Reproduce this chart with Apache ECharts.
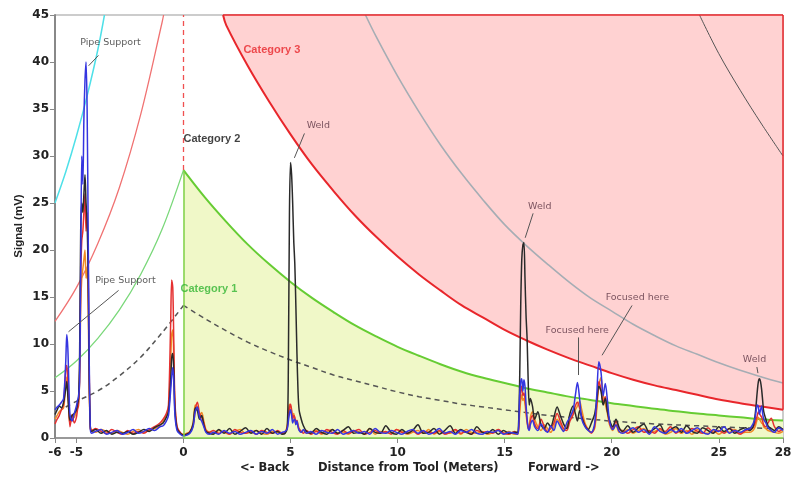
<!DOCTYPE html>
<html>
<head>
<meta charset="utf-8">
<script src="https://cdn.jsdelivr.net/npm/echarts@6/dist/echarts.min.js"></script>
<style>html,body{margin:0;padding:0;background:#fff;}#c{width:795px;height:479px;}</style>
</head>
<body>
<div id="c"></div>
<script>
// ---------- axis ticks ----------
const xTicks = [-6, -5, 0, 5, 10, 15, 20, 25, 28];

// ---------- threshold curves ----------
const cat3X = [1.85,2,3,4,5,6,7,8,9,10,11,12,13,14,15,16,17,18,19,20,21,22,23,24,25,26,27,28];
const cat3Y = [45,43.9,39.6,35.8,32.3,29.1,26.3,23.7,21.4,19.3,17.4,15.7,14.1,12.8,11.5,10.4,9.4,8.5,7.7,6.9,6.2,5.6,5.1,4.6,4.1,3.7,3.35,3.0];
const grayX = [8.5,9,10,11,12,13,14,15,16,17,18,19,20,21,22,23,24,25,26,27,28];
const grayY = [45,42.7,38.5,34.7,31.2,28.1,25.3,22.7,20.5,18.5,16.6,14.9,13.5,12.1,10.9,9.8,8.9,8.0,7.2,6.5,5.85];
const darkX = [24.1,25,26,27,28];
const darkY = [45,40.9,37.0,33.4,30.0];
const cyanX = [-6,-5.5,-5,-4.5,-4,-3.69];
const cyanY = [25,28.3,32.1,36.4,41.3,45];
const redLX = [-6,-5,-4,-3,-2,-1,-0.93];
const redLY = [12.4,16.0,20.7,26.6,34.4,44.2,45];
const greenLX = [-6,-5,-4,-3,-2,-1,0];
const greenLY = [6.4,8.2,10.6,13.6,17.4,22.2,28.5];
const greenRX = [0,1,2,3,4,5,6,7,8,9,10,11,12,13,14,15,16,17,18,19,20,21,22,23,24,25,26,27,28];
const greenRY = [28.5,25.6,23.0,20.6,18.5,16.6,14.9,13.4,12.0,10.8,9.7,8.75,7.85,7.05,6.4,5.85,5.3,4.85,4.4,4.05,3.7,3.4,3.1,2.85,2.6,2.4,2.2,2.0,1.85];
const dashLX = [-5.5,-5,-4,-3,-2,-1,0];
const dashLY = [3.3,3.9,5.0,6.6,8.6,11.2,14.1];
const dashRX = [0,1,2,3,4,5,6,7,8,9,10,11,12,13,14,15,16,17,18,19,20,22,24,26,28];
const dashRY = [14.1,12.7,11.4,10.2,9.2,8.3,7.5,6.7,6.1,5.5,4.9,4.4,4.0,3.6,3.3,3.0,2.7,2.4,2.2,2.0,1.8,1.5,1.3,1.1,1.0];

// ---------- signal traces: shared distances ----------
const traceX = [
 -6.0,-5.9,-5.8,-5.7,-5.6,-5.5,-5.45,-5.4,-5.35,-5.3,-5.2,-5.1,-5.0,
 -4.95,-4.9,-4.85,-4.8,-4.75,-4.7,-4.65,-4.6,-4.55,-4.5,-4.45,-4.4,-4.35,-4.3,
 -4.1,-3.85,-3.6,-3.35,-3.1,-2.85,-2.6,-2.35,-2.1,-1.85,-1.6,-1.35,-1.1,
 -0.95,-0.8,-0.7,-0.6,-0.55,-0.5,-0.45,-0.4,-0.3,-0.15,0,0.15,0.3,0.45,0.55,0.65,0.75,0.85,0.95,1.05,1.2,
 1.4,1.65,1.9,2.15,2.4,2.65,2.9,3.15,3.4,3.65,3.9,4.15,4.4,4.6,
 4.75,4.85,4.9,4.95,5.0,5.05,5.1,5.15,5.2,5.25,5.3,5.35,5.4,5.5,5.6,5.75,
 5.95,6.2,6.45,6.7,6.95,7.2,7.45,7.7,7.95,8.2,8.45,8.7,8.95,9.2,9.45,9.7,9.95,10.2,10.45,10.7,10.95,11.2,11.45,11.7,11.95,12.2,12.45,12.7,12.95,13.2,13.45,13.7,13.95,14.2,14.45,14.7,14.95,15.2,15.45,
 15.6,15.65,15.7,15.75,15.8,15.85,15.9,15.95,16.0,16.05,16.1,16.15,16.2,16.3,
 16.4,16.55,16.7,16.85,17.0,17.15,17.3,17.45,17.6,17.75,17.9,18.05,18.2,18.3,18.4,18.5,18.6,18.75,18.9,19.05,19.2,19.3,19.4,19.5,19.6,19.7,19.8,19.9,20.05,20.2,20.35,
 20.5,20.75,21.0,21.25,21.5,21.75,22.0,22.25,22.5,22.75,23.0,23.25,23.5,23.75,24.0,24.25,24.5,24.75,25.0,25.25,25.5,25.75,26.0,26.25,
 26.45,26.6,26.7,26.8,26.85,26.9,26.95,27.0,27.05,27.1,27.2,27.3,27.45,27.6,
 27.8,28.0
];
const blackY = [
 2.5,3.0,3.4,3.2,3.8,5.2,6.0,4.5,2.8,1.9,2.4,2.6,3.0,
 3.6,4.2,9,22,25,24,26,28,25,23,17,6,1.2,0.7,
 0.9,0.5,0.8,0.4,0.6,0.5,0.7,0.4,0.6,0.9,0.7,1.1,1.4,
 1.6,2.2,2.8,6,8.5,9,7,3,1.0,0.5,0.3,0.4,0.6,1.5,3.2,2.9,2.0,2.4,1.4,0.7,0.5,
 0.4,0.9,0.5,1.0,0.4,0.7,1.1,0.5,0.8,0.4,1.0,0.5,0.7,0.4,
 0.5,1.2,8,24,29.3,28,25,21,18.5,14,9,5,3,2,1.3,0.7,
 0.5,1.0,0.6,0.4,0.9,0.5,0.8,1.2,0.5,0.6,0.4,1.0,0.6,0.5,1.3,0.6,0.4,0.9,0.5,0.8,1.4,0.5,0.6,1.0,0.4,0.8,1.3,0.5,0.9,0.6,0.4,1.2,0.6,0.5,0.9,0.4,0.8,0.5,0.6,
 0.6,1.5,6,14,19,20.5,20.8,17,13,10.5,6,3.5,4.2,3.4,
 2.0,2.8,1.4,1.0,1.6,1.2,2.2,3.3,2.4,1.5,1.0,2.6,3.4,2.6,1.8,2.9,2.2,1.3,0.9,1.6,2.5,4.0,5.5,5.0,3.5,4.2,2.8,1.9,1.2,2.0,1.1,
 0.7,1.3,0.6,1.1,1.5,0.6,1.0,1.4,0.5,0.9,1.2,0.6,1.3,0.7,0.5,1.1,0.8,0.5,1.2,0.7,1.0,0.5,0.9,1.1,
 0.8,1.2,2.5,5,6.0,6.3,6.0,5.2,4.0,2.8,2.0,1.3,1.0,0.8,
 1.2,0.9
];
const blueY = [
 3.0,3.3,3.5,3.8,4.2,8.0,11.0,9.5,5.5,2.5,1.8,2.6,3.4,
 4.0,4.4,6,18,30,27,34,38,40,35,22,8,1.0,0.5,
 0.7,0.9,0.4,0.6,0.8,0.4,0.6,0.9,0.5,0.7,1.0,0.8,1.2,
 1.3,1.8,2.4,5,6.5,7.5,6,2.5,0.8,0.4,0.2,0.3,0.5,1.2,2.8,3.3,2.2,1.8,1.2,0.6,0.4,
 0.6,0.4,0.8,0.5,0.7,0.4,0.6,0.8,0.4,0.7,0.5,0.9,0.4,0.6,
 0.7,1.0,1.8,2.6,3.0,2.4,1.6,1.9,2.0,1.4,1.8,1.2,0.8,0.6,0.9,0.5,
 0.7,0.4,0.8,0.6,0.5,0.9,0.4,0.6,0.8,0.5,0.7,0.4,1.0,0.6,0.5,0.8,0.6,0.4,0.7,0.9,0.5,0.8,0.4,0.6,1.0,0.5,0.7,0.4,0.8,0.6,0.9,0.5,0.4,0.7,0.6,0.8,0.4,0.6,0.5,
 0.4,1.0,4.5,6.0,6.3,5.0,6.2,5.5,3.5,2.0,1.0,0.8,1.4,1.9,
 1.2,0.8,1.5,0.9,0.6,1.3,0.8,1.8,1.2,0.7,1.6,2.2,3.0,4.5,5.9,4.2,2.0,1.2,0.8,0.6,1.5,4.5,8.1,7.0,4.5,5.8,4.0,1.8,0.9,1.4,0.7,
 0.5,0.8,1.1,0.6,0.9,0.4,1.2,0.7,0.5,0.9,0.6,1.0,0.5,0.8,1.1,0.6,0.4,0.9,0.7,1.2,0.5,0.8,0.6,0.9,
 1.0,1.5,2.2,3.5,3.3,2.5,3.0,3.4,2.6,2.0,1.6,1.1,0.8,0.6,
 1.1,0.8
];
const redY = [
 1.5,2.0,2.4,3.0,3.6,7.2,7.7,6.0,3.0,1.2,2.5,1.6,2.2,
 3.0,3.5,7,17,21,22,24,26,22,24,19,7,1.0,0.8,
 1.0,0.7,0.5,0.9,0.6,0.4,0.8,0.5,0.7,0.5,0.9,1.2,1.6,
 2.0,2.6,3.5,12,16.8,16,10,4,1.2,0.6,0.3,0.4,0.7,1.3,3.0,3.8,2.6,2.2,1.6,0.8,0.6,
 0.8,0.5,0.7,0.4,0.9,0.6,0.5,0.7,0.4,0.8,0.6,0.5,0.8,0.5,
 0.6,1.2,2.2,3.2,3.6,3.0,2.0,2.4,2.2,1.6,1.9,1.4,1.0,0.7,0.5,0.8,
 0.4,0.7,0.5,0.9,0.6,0.4,0.8,0.5,0.7,0.9,0.4,0.6,0.8,0.5,0.7,0.4,0.9,0.6,0.5,0.8,0.4,0.7,0.6,0.5,0.8,0.4,0.6,0.9,0.5,0.7,0.4,0.8,0.6,0.7,0.5,0.9,0.5,0.4,0.7,
 0.5,0.9,3.5,5.0,5.5,4.5,4.8,4.2,3.0,1.8,1.2,0.9,1.8,2.4,
 1.5,1.0,2.0,1.2,0.7,1.0,1.6,2.6,1.8,1.0,0.8,1.8,2.5,3.4,3.8,3.2,2.4,1.4,0.9,0.5,1.2,3.5,6.0,5.2,3.8,4.4,3.0,1.6,1.0,1.8,0.9,
 0.8,0.5,0.9,1.2,0.6,0.8,0.5,1.0,0.7,1.2,0.5,0.8,0.6,1.0,0.7,0.5,1.1,0.6,0.8,0.5,1.0,0.7,0.4,0.8,
 0.9,1.1,1.6,2.4,2.8,2.6,2.4,2.2,1.8,1.4,1.2,1.6,2.1,1.2,
 0.7,1.0
];
const orangeY = [
 2.0,2.4,2.8,3.0,3.2,5.5,6.5,5.0,2.6,1.6,2.0,2.2,2.8,
 3.2,3.8,6,14,17,18,19,20,17,18,14,5,1.2,0.9,
 0.6,0.9,0.7,0.5,0.8,0.6,0.4,0.7,0.9,0.6,0.8,1.0,1.3,
 1.8,2.4,3.0,8,11,11.5,8,3.5,1.1,0.5,0.4,0.5,0.6,1.6,3.5,3.2,2.4,2.7,1.8,0.9,0.6,
 0.5,0.8,0.6,0.4,0.7,0.9,0.5,0.6,0.8,0.5,0.4,0.7,0.6,0.5,
 0.6,1.4,2.8,3.6,3.4,2.8,2.2,2.6,1.8,1.5,1.7,1.2,0.9,0.6,0.8,0.5,
 0.6,0.8,0.4,0.7,0.9,0.5,0.6,0.4,0.8,0.6,0.5,1.0,0.4,0.7,0.6,0.5,0.9,0.7,0.4,0.6,0.8,0.5,0.9,0.4,0.7,0.6,0.5,0.8,0.4,0.9,0.6,0.5,0.7,0.4,0.6,0.9,0.5,0.7,0.4,
 0.4,0.8,2.5,4.0,4.6,4.0,4.2,3.6,2.5,1.6,1.0,1.2,2.2,2.8,
 2.0,1.2,0.8,1.4,1.0,0.6,1.2,2.0,1.5,0.8,1.2,2.0,2.8,3.0,3.4,3.9,3.0,1.6,0.9,0.6,1.0,3.0,5.5,6.4,4.6,3.6,2.6,1.4,0.8,1.4,0.6,
 0.6,0.9,0.5,0.8,1.0,0.5,0.7,0.9,0.4,0.6,1.0,0.5,0.8,0.4,0.9,0.6,0.5,0.8,0.4,0.7,0.6,0.9,0.5,0.6,
 0.6,0.8,1.2,2.0,2.2,2.0,1.8,1.6,1.5,1.2,1.0,0.8,0.7,0.6,
 0.5,0.7
];

// ---------- annotations ----------
const annoText = ['Pipe Support','Pipe Support','Weld','Weld','Focused here','Focused here','Weld'];
const annoX = [-3.41,-2.71,6.3,16.64,18.39,21.2,26.67];
const annoY = [42.1,16.7,33.2,24.6,11.4,14.9,8.3];
const leadX1 = [-3.97,-3.03,5.65,16.33,18.43,20.95,26.78];
const leadY1 = [40.7,15.7,32.4,23.9,10.7,14.1,7.55];
const leadX2 = [-4.43,-5.37,5.18,15.96,18.43,19.55,26.83];
const leadY2 = [39.6,11.3,29.8,21.3,6.7,8.8,6.9];
const catText = ['Category 1','Category 2','Category 3'];
const catX = [-0.14,0.0,2.8];
const catY = [15.85,31.8,41.3];
const catColor = ['#33b533','#111111','#e8262b'];

const zip = (xs, ys) => xs.map((x, i) => [x, ys[i]]);
const lineS = (xs, ys, color, width, z, extra) => Object.assign({
  type: 'line', data: zip(xs, ys), smooth: 0.35, symbol: 'none', silent: true,
  lineStyle: { color: color, width: width }, z: z
}, extra || {});

const chart = echarts.init(document.getElementById('c'), null, { renderer: 'canvas' });
const tickFont = { fontFamily: 'DejaVu Sans', fontWeight: 'bold', fontSize: 12, color: '#222' };

const series = [
  lineS(cat3X, cat3Y, '#e8262b', 2, 1, {
    areaStyle: { color: '#ffd2d2', opacity: 1, origin: 'end' },
    markLine: { symbol: 'none', silent: true, animation: false, label: { show: false },
      lineStyle: { color: '#e8262b', width: 1.5, type: 'solid' },
      data: [
        [{ coord: [cat3X[cat3X.length - 1], cat3Y[cat3Y.length - 1]] }, { coord: [cat3X[cat3X.length - 1], 45] }],
        [{ coord: [cat3X[0], 45] }, { coord: [cat3X[cat3X.length - 1], 45] }]
      ] }
  }),
  lineS(greenRX, greenRY, '#66cc33', 2, 1, {
    areaStyle: { color: '#f0f8c8', opacity: 1, origin: 'start' },
    markLine: { symbol: 'none', silent: true, animation: false, label: { show: false },
      lineStyle: { color: '#7fd04a', width: 1.5, type: 'solid' },
      data: [
        [{ coord: [0, 0] }, { coord: [0, greenRY[0]] }],
        [{ coord: [0, 0] }, { coord: [greenRX[greenRX.length - 1], 0] }]
      ] }
  }),
  lineS(grayX, grayY, '#a6adb4', 1.6, 3),
  lineS(darkX, darkY, '#555555', 1, 3),
  lineS(cyanX, cyanY, '#4ee0e8', 1.5, 3),
  lineS(redLX, redLY, '#f07272', 1.3, 3),
  lineS(greenLX, greenLY, '#7ad87a', 1.3, 3, {
    markLine: { symbol: 'none', silent: true, animation: false, label: { show: false },
      lineStyle: { color: '#f05050', width: 1.3, type: [5, 4] },
      data: [[{ coord: [0, greenLY[greenLY.length - 1]] }, { coord: [0, 45] }]] }
  }),
  lineS(dashLX, dashLY, '#555555', 1.5, 3, { lineStyle: { color: '#555', width: 1.5, type: [5, 4] } }),
  lineS(dashRX, dashRY, '#555555', 1.5, 3, { lineStyle: { color: '#555', width: 1.5, type: [5, 4] } }),
  lineS(traceX, orangeY, '#f08a24', 1.5, 4, { smooth: 0.3 }),
  lineS(traceX, redY, '#e53030', 1.5, 4, { smooth: 0.3 }),
  lineS(traceX, blackY, '#2a2a2a', 1.5, 4, { smooth: 0.3 }),
  lineS(traceX, blueY, '#3535e0', 1.5, 4, { smooth: 0.3 }),
  {
    type: 'lines', coordinateSystem: 'cartesian2d', silent: true, z: 5,
    lineStyle: { color: '#555', width: 1, opacity: 1 },
    data: leadX1.map((x, i) => ({ coords: [[x, leadY1[i]], [leadX2[i], leadY2[i]]] }))
  },
  {
    type: 'scatter', silent: true, z: 6, symbolSize: 0,
    data: annoText.map((t, i) => ({
      name: t, value: [annoX[i], annoY[i]],
      label: { color: i < 2 ? '#333333' : '#5a3342' }
    })),
    label: { show: true, position: 'inside', formatter: '{b}', fontFamily: 'DejaVu Sans', fontSize: 9.5 }
  },
  {
    type: 'scatter', silent: true, z: 6, symbolSize: 0,
    data: catText.map((t, i) => ({
      name: t, value: [catX[i], catY[i]],
      label: { color: catColor[i] }
    })),
    label: { show: true, position: 'right', distance: 0, formatter: '{b}', fontFamily: 'Liberation Sans', fontWeight: 'bold', fontSize: 11, verticalAlign: 'middle' }
  }
];

chart.setOption({
  animation: false,
  backgroundColor: '#ffffff',
  grid: { left: 55, right: 12, top: 15, bottom: 41, show: true, borderColor: '#999', borderWidth: 1, backgroundColor: 'transparent' },
  xAxis: {
    type: 'value', min: -6, max: 28,
    axisLine: { onZero: false, lineStyle: { color: '#888', width: 1.5 } },
    axisTick: { show: true, customValues: xTicks, length: 5, lineStyle: { color: '#888' } },
    axisLabel: Object.assign({ customValues: xTicks, margin: 9, showMaxLabel: true, showMinLabel: true }, tickFont),
    splitLine: { show: false }
  },
  yAxis: {
    type: 'value', min: 0, max: 45, interval: 5,
    axisLine: { show: true, onZero: false, lineStyle: { color: '#888', width: 2 } },
    axisTick: { show: true, length: 5, lineStyle: { color: '#888' } },
    axisLabel: Object.assign({ margin: 6 }, tickFont),
    splitLine: { show: false }
  },
  graphic: [
    { type: 'text', x: 240, y: 468, style: { text: '<- Back', font: 'bold 11.5px "DejaVu Sans"', fill: '#222', verticalAlign: 'middle' } },
    { type: 'text', x: 318, y: 468, style: { text: 'Distance from Tool (Meters)', font: 'bold 11.5px "DejaVu Sans"', fill: '#222', verticalAlign: 'middle' } },
    { type: 'text', x: 528, y: 468, style: { text: 'Forward ->', font: 'bold 11.5px "DejaVu Sans"', fill: '#222', verticalAlign: 'middle' } },
    { type: 'text', x: 19, y: 226, rotation: Math.PI / 2, style: { text: 'Signal (mV)', font: 'bold 11.5px "Liberation Sans"', fill: '#222', align: 'center', verticalAlign: 'middle' } }
  ],
  series: series
});
</script>
</body>
</html>
